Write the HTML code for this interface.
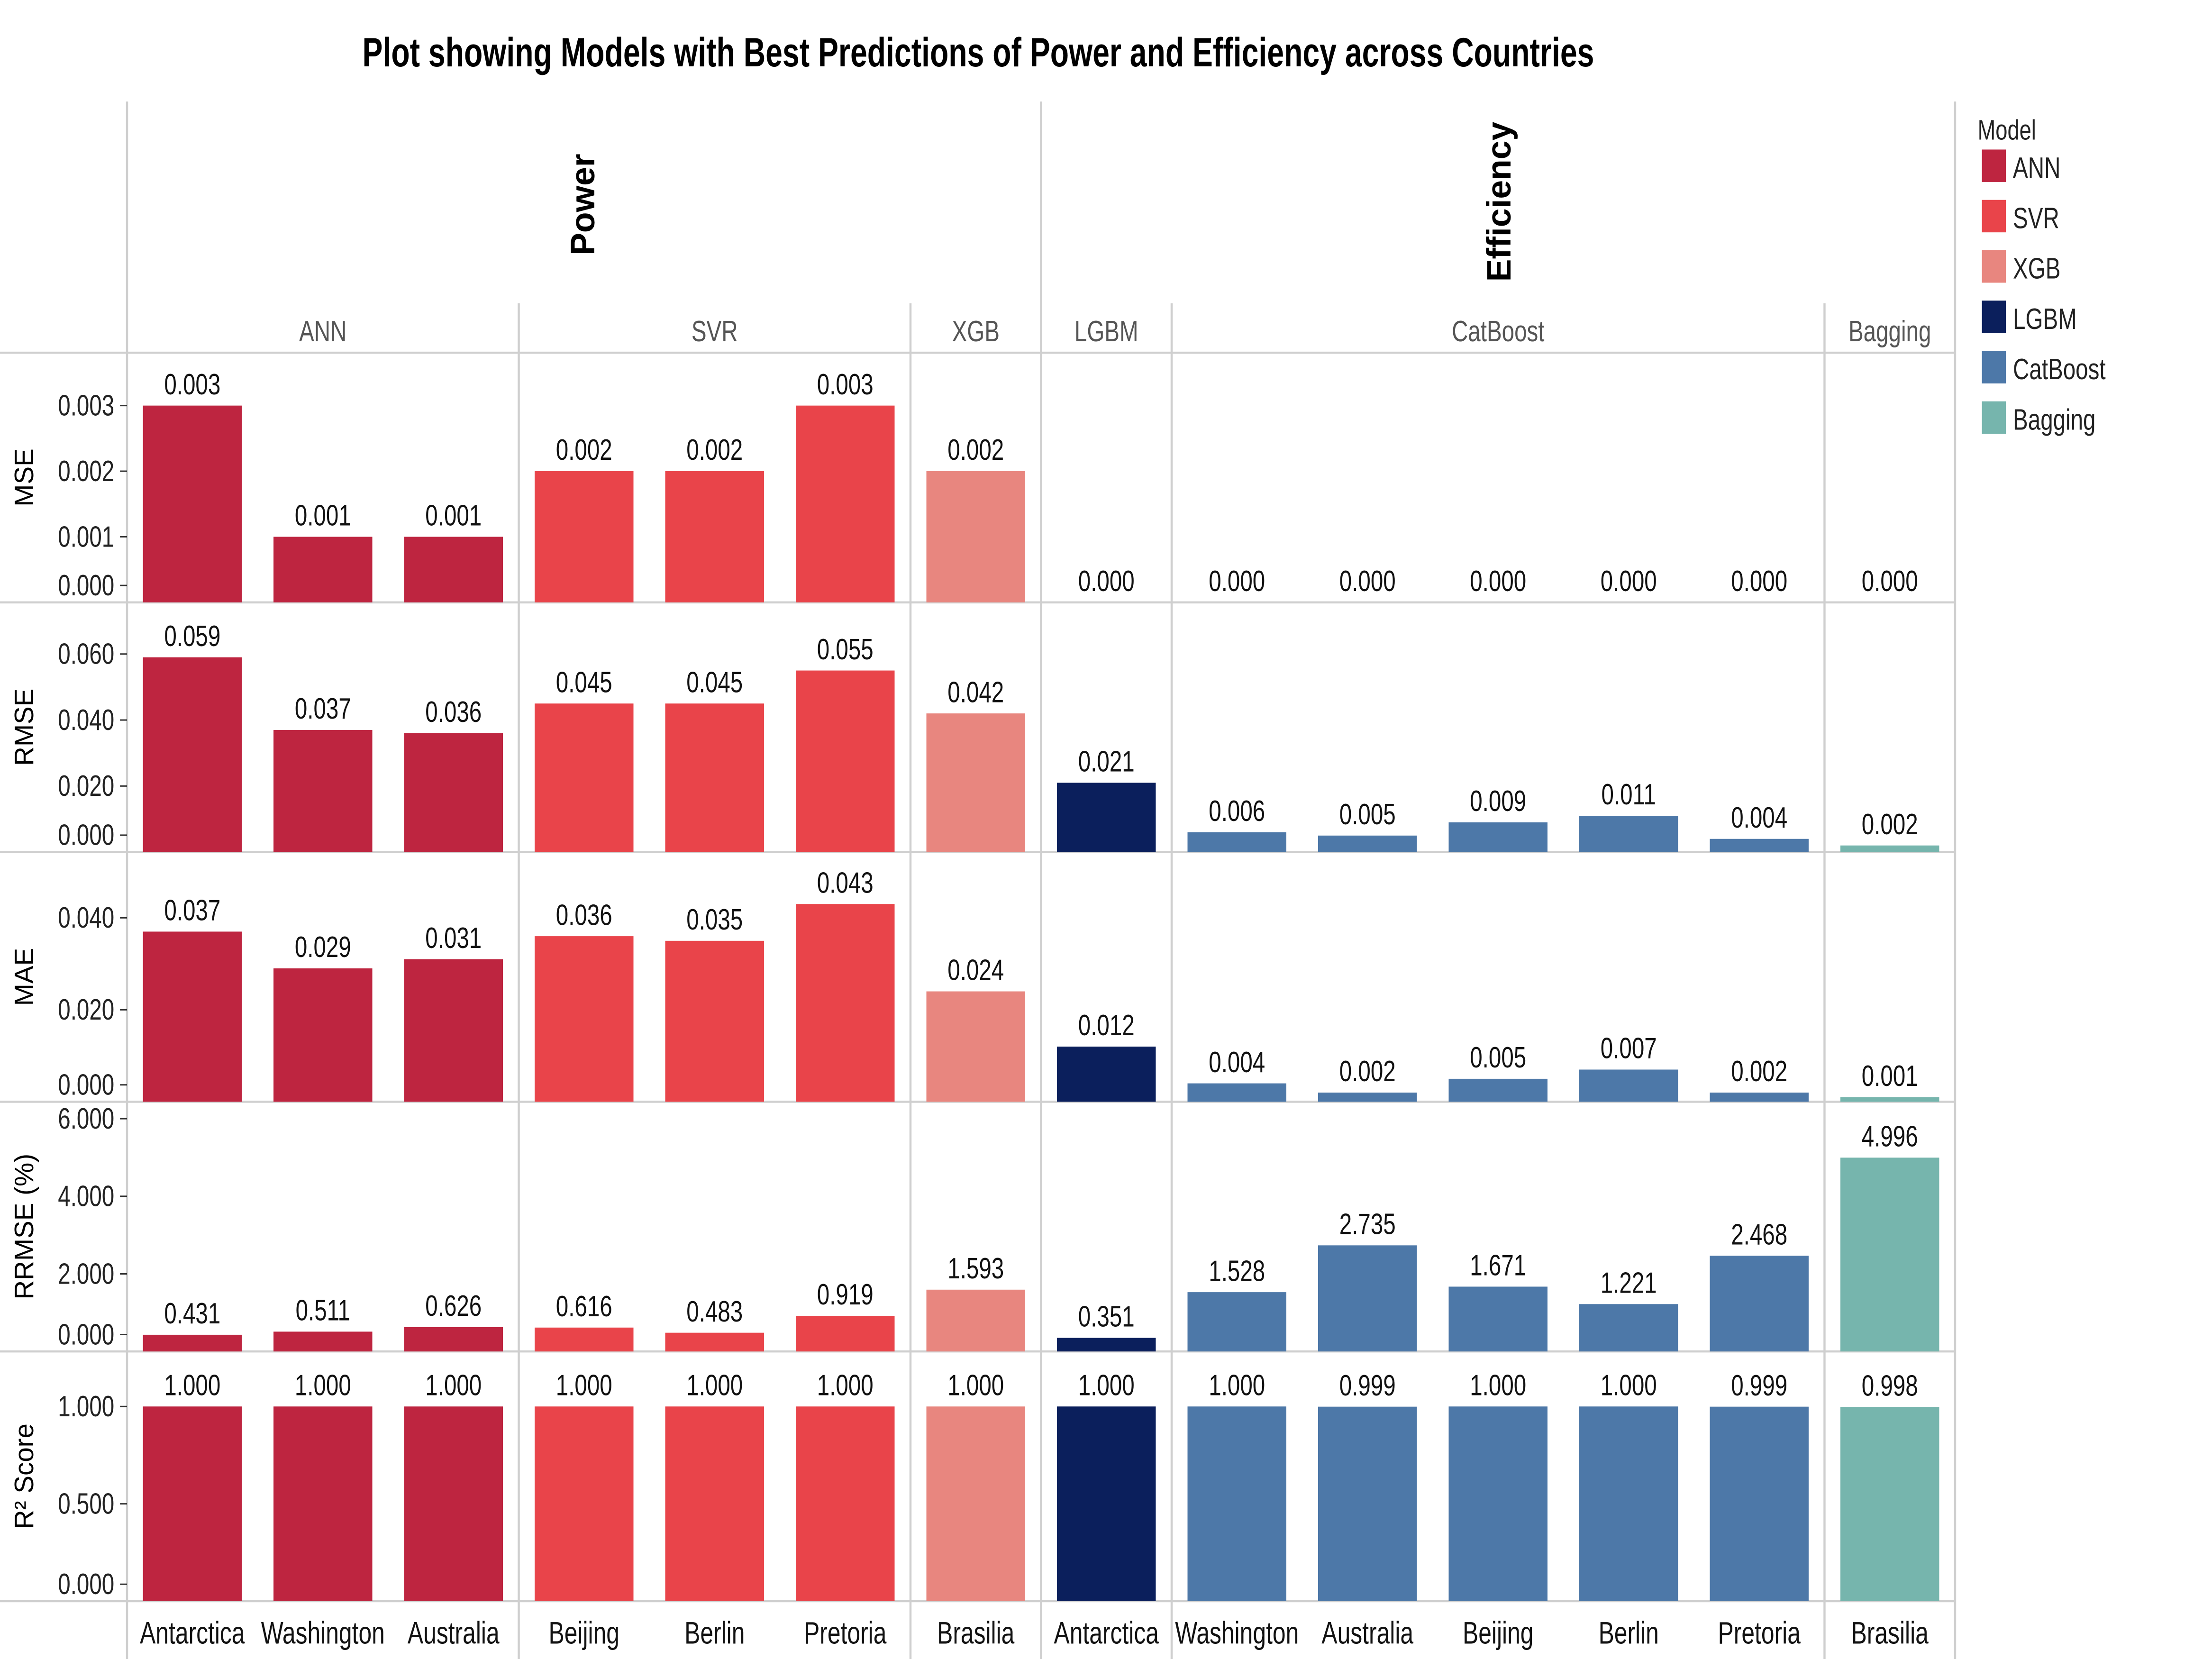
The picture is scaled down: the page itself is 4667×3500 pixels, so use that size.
<!DOCTYPE html>
<html><head><meta charset="utf-8"><style>
html,body{margin:0;padding:0;background:#fff;}
svg{display:block;}
text{font-family:"Liberation Sans",sans-serif;}
</style></head><body>
<svg id="chart" width="4667" height="3500" viewBox="0 0 1567 1176" preserveAspectRatio="none" xmlns="http://www.w3.org/2000/svg"></svg>
<script>
const countries = ["Antarctica","Washington","Australia","Beijing","Berlin","Pretoria","Brasilia","Antarctica","Washington","Australia","Beijing","Berlin","Pretoria","Brasilia"];
const models = ["ANN","ANN","ANN","SVR","SVR","SVR","XGB","LGBM","CatBoost","CatBoost","CatBoost","CatBoost","CatBoost","Bagging"];
const mseVals = [0.003,0.001,0.001,0.002,0.002,0.003,0.002,0.000,0.000,0.000,0.000,0.000,0.000,0.000];
const rmseVals = [0.059,0.037,0.036,0.045,0.045,0.055,0.042,0.021,0.006,0.005,0.009,0.011,0.004,0.002];
const maeVals = [0.037,0.029,0.031,0.036,0.035,0.043,0.024,0.012,0.004,0.002,0.005,0.007,0.002,0.001];
const rrmseVals = [0.431,0.511,0.626,0.616,0.483,0.919,1.593,0.351,1.528,2.735,1.671,1.221,2.468,4.996];
const r2Vals = [1.000,1.000,1.000,1.000,1.000,1.000,1.000,1.000,1.000,0.999,1.000,1.000,0.999,0.998];
const mseTicks = [0,0.001,0.002,0.003];
const rmseTicks = [0,0.02,0.04,0.06];
const maeTicks = [0,0.02,0.04];
const rrmseTicks = [0,2,4,6];
const r2Ticks = [0,0.5,1.0];
const modelNames = ["ANN","SVR","XGB","LGBM","CatBoost","Bagging"];
const modelColors = ["#be2540","#e9444a","#e8867f","#0b1f5c","#4d78a8","#76b5ad"];
</script>
<script>
const svg=document.getElementById('chart');
const NS="http://www.w3.org/2000/svg";
const SX=0.76;
function mk(tag,attrs,parent){const e=document.createElementNS(NS,tag);for(const k in attrs)e.setAttribute(k,attrs[k]);(parent||svg).appendChild(e);return e;}
function txt(x,y,s,attrs,sx){const a=Object.assign({x:0,y:0,transform:`translate(${x} ${y}) scale(${sx||SX} 1)`},attrs);const e=mk('text',a);e.textContent=s;return e;}
const X0=90, CW=92.5, BW=70;
const xCenter=i=>X0+CW*(i+0.5);
let t=txt(693,47,'Plot showing Models with Best Predictions of Power and Efficiency across Countries',{'text-anchor':'middle','font-size':29,'font-weight':'bold',fill:'#000'},0.745);


const groups=[{n:"ANN",s:0,e:3},{n:"SVR",s:3,e:6},{n:"XGB",s:6,e:7},{n:"LGBM",s:7,e:8},{n:"CatBoost",s:8,e:13},{n:"Bagging",s:13,e:14}];
const rows=[
 {name:"MSE",vals:mseVals,ticks:mseTicks,top:250,bot:427,scale:46500},
 {name:"RMSE",vals:rmseVals,ticks:rmseTicks,top:427,bot:604,scale:2340},
 {name:"MAE",vals:maeVals,ticks:maeTicks,top:604,bot:781,scale:3260},
 {name:"RRMSE (%)",vals:rrmseVals,ticks:rrmseTicks,top:781,bot:958,scale:27.5},
 {name:"R² Score",vals:r2Vals,ticks:r2Ticks,top:958,bot:1135,scale:138}];
[250,427,604,781,958,1135].forEach(y=>{const l=mk('line',{x1:0,x2:1385,y1:y,y2:y,stroke:'#cfcfcf','stroke-width':1.5});});
groups.forEach((g)=>{
 const xs=X0+CW*g.s;
 const l=mk('line',{x1:xs,x2:xs,y1:(g.s===0||g.s===7)?72:215,y2:1176,stroke:'#cfcfcf','stroke-width':1.5});
 
 const tx=txt(X0+CW*(g.s+g.e)/2,242,g.n,{'text-anchor':'middle','font-size':21,fill:'#555'});
 
});
let l2=mk('line',{x1:1385,x2:1385,y1:72,y2:1176,stroke:'#cfcfcf','stroke-width':1.5});

[["Power",413,145],["Efficiency",1062,143]].forEach(([s,x,y])=>{const e=mk('text',{x:x,y:y,'text-anchor':'middle','font-size':24,'font-weight':'bold',transform:`rotate(-90 ${x} ${y})`,'dominant-baseline':'central',fill:'#000'});e.textContent=s;});
rows.forEach(r=>{
 const yOf=v=>r.bot-v*r.scale;
 const cy=(r.top+r.bot)/2;
 const lab=mk('text',{x:17,y:cy,'text-anchor':'middle','font-size':19,transform:`rotate(-90 17 ${cy})`,'dominant-baseline':'central',fill:'#000'});
 lab.textContent=r.name;
 r.ticks.forEach(tv=>{
  const y=yOf(tv);
  const ty=tv===0?r.bot-12:y;
  const tk=mk('line',{x1:85,x2:90,y1:ty,y2:ty,stroke:'#333','stroke-width':1});
  
  const tl=txt(81,ty+7,tv.toFixed(3),{'text-anchor':'end','font-size':21,fill:'#222'});
  
 });
 r.vals.forEach((v,i)=>{
  const ci=modelNames.indexOf(models[i]);
  const y=yOf(v);
  const b=mk('rect',{x:xCenter(i)-BW/2,y:y,width:BW,height:Math.max(0,r.bot-y),fill:modelColors[ci]});
  
  const vl=txt(xCenter(i),y-8,v.toFixed(3),{'text-anchor':'middle','font-size':21,fill:'#111'});
  
 });
});
countries.forEach((c,i)=>{const e=txt(xCenter(i),1165,c,{'text-anchor':'middle','font-size':22,fill:'#111'});});
let lt=txt(1401,99,'Model',{'font-size':20,fill:'#222'});
modelNames.forEach((m,i)=>{
 const y=106+i*35.7;
 const sw=mk('rect',{x:1404,y:y,width:17,height:23,fill:modelColors[i]});
 
 const tx=txt(1426,y+20,m,{'font-size':21,fill:'#222'});
 
});
</script>
</body></html>
